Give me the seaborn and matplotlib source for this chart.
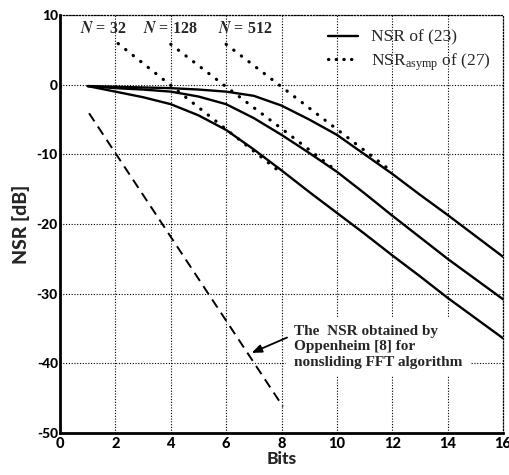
import matplotlib
matplotlib.use("Agg")
import matplotlib.pyplot as plt
import seaborn as sns
from matplotlib.lines import Line2D

# ---- data ----
bits = [1, 2, 3, 4, 5, 6, 7, 8, 9, 10, 11, 12, 13, 14, 15, 16]
nsr_n32 = [-0.2, -1.0, -1.8, -2.8, -4.4, -6.5, -9.3, -12.3, -15.4, -18.4,
           -21.4, -24.5, -27.5, -30.6, -33.5, -36.4]
nsr_n128 = [-0.2, -0.5, -0.7, -1.0, -1.7, -2.8, -4.8, -7.2, -9.8, -12.5,
            -15.6, -18.8, -21.9, -25.0, -27.9, -30.8]
nsr_n512 = [-0.2, -0.3, -0.4, -0.5, -0.7, -1.0, -1.6, -3.0, -5.0, -7.2,
            -10.0, -12.8, -15.8, -18.7, -21.7, -24.7]

asymp_bits_n32 = [2.1, 4, 6, 8]
asymp_n32 = [5.9, -0.1, -6.4, -12.7]
asymp_bits_n128 = [4, 6, 8, 10]
asymp_n128 = [5.8, -0.3, -6.3, -12.4]
asymp_bits_n512 = [6, 8, 10, 12]
asymp_n512 = [5.8, -0.3, -6.4, -12.5]

opp_bits = [1.05, 8.05]
opp_nsr = [-4.1, -46.2]

n_labels = ["32", "128", "512"]
x_ticks = [0, 2, 4, 6, 8, 10, 12, 14, 16]
y_ticks = [-50, -40, -30, -20, -10, 0, 10]
legend_labels = ["NSR of (23)", r"NSR$_{\mathregular{asymp}}$ of (27)"]
annotation = "The  NSR obtained by\nOppenheim [8] for\nnonsliding FFT algorithm"

# ---- styling ----
sns.set_theme(style="white")
plt.rcParams["font.family"] = ["Lato", "DejaVu Sans"]
plt.rcParams["mathtext.fontset"] = "stix"

fig = plt.figure(figsize=(5.09, 4.75), dpi=100)
ax = fig.add_axes([60 / 509, 1 - 433 / 475, 443 / 509, 418 / 475])

solid_kw = dict(color="black", linewidth=1.7)
dot_kw = dict(color="black", linewidth=2.3, linestyle=(0, (0.1, 2.9)),
              dash_capstyle="round")

for vals in [nsr_n32, nsr_n128, nsr_n512]:
    sns.lineplot(x=bits, y=vals, ax=ax, **solid_kw)
for xs, ys in [(asymp_bits_n32, asymp_n32), (asymp_bits_n128, asymp_n128),
               (asymp_bits_n512, asymp_n512)]:
    sns.lineplot(x=xs, y=ys, ax=ax, **dot_kw)
sns.lineplot(x=opp_bits, y=opp_nsr, ax=ax, color="black", linewidth=1.4,
             linestyle=(0, (5, 3.2)))

ax.set_xlim(0, 16)
ax.set_ylim(-50, 10)
ax.set_xticks(x_ticks)
ax.set_yticks(y_ticks)
ax.set_xticklabels([str(t) for t in x_ticks], fontweight=900, fontsize=10.5)
ax.set_yticklabels([str(t) for t in y_ticks], fontweight=900, fontsize=10)
ax.tick_params(direction="in", length=4, width=1.2, colors="black")
ax.tick_params(axis="x", pad=3)
ax.tick_params(axis="y", pad=1.5)
ax.grid(True, color="black", linestyle=(0, (1, 1.5)), linewidth=0.8)

for side in ["left", "bottom"]:
    ax.spines[side].set_linewidth(2.0)
    ax.spines[side].set_color("black")
for side in ["top", "right"]:
    ax.spines[side].set_linewidth(0.9)
    ax.spines[side].set_linestyle((0, (1, 1.5)))
    ax.spines[side].set_color("black")

ax.set_xlabel("Bits", fontweight=900, fontsize=12.5, labelpad=0)
ax.set_ylabel("NSR [dB]", fontweight=900, fontsize=14, labelpad=5)

# N labels
for xpos, lab in zip([1.56, 4.0, 6.7], n_labels):
    ax.text(xpos, 8.0, r"$\mathbfit{N}$ = " + lab, ha="center", va="center",
            fontsize=11.5, fontweight="bold", family=["Liberation Serif"])

# legend (proxy handles share the plotted styles)
h_solid = Line2D([], [], **solid_kw)
h_dot = Line2D([], [], color="black", linewidth=2.3,
               linestyle=(0, (0.1, 2.3)), dash_capstyle="round")
leg = ax.legend([h_solid, h_dot], legend_labels, loc="upper left",
                bbox_to_anchor=(0.605, 0.965), frameon=False,
                prop={"family": "Liberation Serif", "size": 12.5},
                handlelength=1.75, handletextpad=0.75, labelspacing=0.3,
                borderpad=0, borderaxespad=0)

# annotation text with white box and arrow
ax.text(8.45, -37.6, annotation, ha="left", va="center", fontsize=11,
        fontweight="bold", family=["Liberation Serif"], linespacing=1.25,
        zorder=4,
        bbox=dict(boxstyle="square,pad=0.5", facecolor="white",
                  edgecolor="none"))
ax.annotate("", xy=(6.92, -38.5), xytext=(8.2, -36.3), zorder=5,
            arrowprops=dict(arrowstyle="-|>,head_length=0.5,head_width=0.2",
                            color="black", lw=1.3, shrinkA=0, shrinkB=0))

fig.savefig("out.png", dpi=100)
